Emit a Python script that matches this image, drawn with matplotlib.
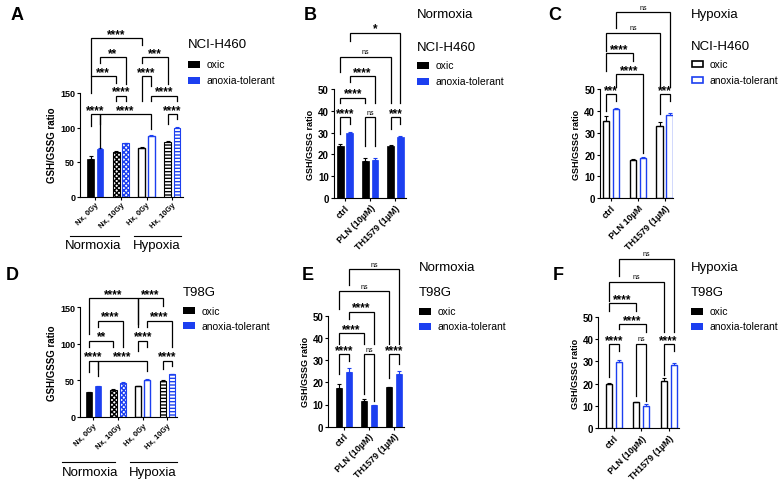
import numpy as np
import matplotlib
matplotlib.use('Agg')
import matplotlib.pyplot as plt
from matplotlib.lines import Line2D
from matplotlib.patches import Rectangle

plt.rcParams['font.family'] = ['Liberation Sans', 'DejaVu Sans']
plt.rcParams['hatch.linewidth'] = 1.0

W, H = 779, 489
BLUE = '#1c3ff0'

# ---------------- data ----------------
rad_labels = ['Nx, 0Gy', 'Nx, 10Gy', 'Hx, 0Gy', 'Hx, 10Gy']
drug_labels = ['ctrl', 'PLN (10µM)', 'TH1579 (1µM)']
drug_labels_c = ['ctrl', 'PLN 10µM', 'TH1579 (1µM)']

a_oxic = [55, 64, 71, 79]
a_oxic_err = [4, 1.5, 1, 1]
a_anox = [69, 77, 88, 99]
a_anox_err = [2, 1, 1, 1.5]

b_oxic = [24, 17, 24]
b_oxic_err = [1, 1.5, 0.5]
b_anox = [30, 17.5, 28]
b_anox_err = [0.4, 1, 0.4]

c_oxic = [35.5, 17.5, 33.2]
c_oxic_err = [2, 0.3, 1.5]
c_anox = [41, 18.5, 38.2]
c_anox_err = [0.5, 0.5, 1]

d_oxic = [33.4, 37, 41.6, 49.3]
d_oxic_err = [1, 1, 1, 1]
d_anox = [41.6, 46.2, 50.7, 58]
d_anox_err = [1, 1, 1, 1]

e_oxic = [17.5, 11.4, 17.7]
e_oxic_err = [1.6, 1.2, 0.3]
e_anox = [24.8, 9.8, 23.7]
e_anox_err = [1.6, 0.2, 1.3]

f_oxic = [20, 11.7, 21.3]
f_oxic_err = [0.5, 0.3, 1.2]
f_anox = [29.8, 10, 28.5]
f_anox_err = [1, 1, 0.6]

# comparisons: (group1, series1, group2, series2, height, leg1 end, leg2 end, label)
a_brackets = [
    (0, 0, 2, 0, 229.5, 174, 219, '****'),
    (0, 1, 1, 1, 202, 194, 163, '**'),
    (2, 0, 3, 0, 202, 194, 163, '***'),
    (0, 0, 1, 0, 174, 150, 165, '***'),
    (2, 0, 2, 1, 174, 139, 160, '****'),
    (1, 0, 1, 1, 146, 139, 139, '****'),
    (2, 1, 3, 1, 146, 139, 139, '****'),
    (0, 1, 2, 1, 119, 71, 97.5, '****'),
    (0, 0, 0, 1, 119, 102, 105, '****'),
    (3, 0, 3, 1, 119, 105, 112, '****'),
]
b_brackets = [
    (0, 1, 2, 1, 75.8, 72, 43.5, '*'),
    (0, 0, 2, 0, 64.7, 58, 43.5, 'ns'),
    (0, 1, 1, 1, 56, 53, 43.5, '****'),
    (0, 0, 1, 0, 46, 43.5, 43.5, '****'),
    (0, 0, 0, 1, 37, 29.4, 34, '****'),
    (1, 0, 1, 1, 37, 24, 24, 'ns'),
    (2, 0, 2, 1, 37, 31.6, 34, '***'),
]
c_brackets = [
    (0, 1, 2, 1, 85.2, 78, 51, 'ns'),
    (0, 0, 2, 0, 75.8, 67.4, 51, 'ns'),
    (0, 0, 1, 0, 66.3, 58.3, 62.8, '****'),
    (0, 1, 1, 1, 56.8, 51, 20.7, '****'),
    (0, 0, 0, 1, 47.6, 40, 44.6, '***'),
    (2, 0, 2, 1, 47.6, 38.5, 44.6, '***'),
]
d_brackets = [
    (0, 0, 2, 0, 162.6, 113, 127, '****'),
    (2, 0, 3, 0, 162.6, 122.4, 152, '****'),
    (0, 1, 1, 1, 131.5, 122.4, 95, '****'),
    (2, 1, 3, 1, 131.5, 122.4, 95, '****'),
    (0, 0, 1, 0, 104, 95, 95, '**'),
    (2, 0, 2, 1, 104, 90, 95, '****'),
    (0, 0, 0, 1, 76.7, 60.8, 65, '****'),
    (0, 1, 2, 1, 76.7, 56, 63, '****'),
    (3, 0, 3, 1, 76.7, 65, 70, '****'),
]
e_brackets = [
    (0, 1, 2, 1, 71, 64, 37.2, 'ns'),
    (0, 0, 2, 0, 61, 53, 37.2, 'ns'),
    (0, 1, 1, 1, 51.8, 48.5, 37.2, '****'),
    (0, 0, 1, 0, 42, 37.2, 37.2, '****'),
    (0, 0, 0, 1, 32.7, 23.7, 29.7, '****'),
    (1, 0, 1, 1, 32.7, 14.7, 11.7, 'ns'),
    (2, 0, 2, 1, 32.7, 22, 28.2, '****'),
]
f_brackets = [
    (0, 1, 2, 1, 75.9, 68.2, 43, 'ns'),
    (0, 0, 2, 0, 65.7, 57.2, 43, 'ns'),
    (0, 0, 1, 0, 56.2, 52.7, 52.7, '****'),
    (0, 1, 1, 1, 46.8, 44.5, 43, '****'),
    (0, 0, 0, 1, 37.8, 22.9, 34.5, '****'),
    (1, 0, 1, 1, 37.8, 14.6, 12.4, 'ns'),
    (2, 0, 2, 1, 37.8, 24, 34.5, '****'),
]

fig = plt.figure(figsize=(W / 100, H / 100), dpi=100)


def fx(x):
    return x / W


def fy(y):
    return 1 - y / H


def add_ax(l, r, t, b):
    return fig.add_axes([fx(l), fy(b), (r - l) / W, (b - t) / H])


def bar_kw(kind, color):
    if kind == 'solid':
        return dict(facecolor=color, edgecolor=color, linewidth=0.5)
    if kind == 'cross':
        return dict(facecolor='white', edgecolor=color, hatch='xxxxxxx', linewidth=0.8)
    if kind == 'stripe':
        return dict(facecolor='white', edgecolor=color, hatch='-----', linewidth=0.8)
    return dict(facecolor='white', edgecolor=color, linewidth=1.0)


def panel(box, labels, oxic, oxic_err, anox, anox_err, kinds, xlim, ymax, ystep,
          off, width, brackets, tfs, xfs, yfs):
    ax = add_ax(*box)
    x = np.arange(len(labels))
    for i in range(len(labels)):
        ax.bar(x[i] - off, oxic[i], width, zorder=2, **bar_kw(kinds[i], 'black'))
        ax.bar(x[i] + off, anox[i], width, zorder=2, **bar_kw(kinds[i], BLUE))
    n = len(labels)
    ax.errorbar(x - off, oxic, yerr=[np.zeros(n), oxic_err], fmt='none', ecolor='black',
                elinewidth=0.8, capsize=1.5, capthick=0.8, zorder=3)
    ax.errorbar(x + off, anox, yerr=[np.zeros(n), anox_err], fmt='none', ecolor=BLUE,
                elinewidth=0.8, capsize=1.5, capthick=0.8, zorder=3)
    ax.set_xlim(*xlim)
    ax.set_ylim(0, ymax)
    ax.set_yticks(np.arange(0, ymax + 1, ystep))
    ax.set_xticks(x)
    ax.set_xticklabels(labels, rotation=45, ha='right', rotation_mode='anchor',
                       fontsize=xfs, fontweight='bold')
    for t in ax.get_yticklabels():
        t.set_fontweight('bold')
        t.set_fontsize(tfs)
    ax.tick_params(length=2.5, width=0.8, pad=1)
    for s in ['top', 'right']:
        ax.spines[s].set_visible(False)
    for s in ['left', 'bottom']:
        ax.spines[s].set_linewidth(0.8)
    ax.set_ylabel('GSH/GSSG ratio', fontsize=yfs, fontweight='bold', labelpad=2)

    for g1, s1, g2, s2, h, l1, l2, lab in brackets:
        p1 = g1 + (off if s1 else -off)
        p2 = g2 + (off if s2 else -off)
        ax.plot([p1, p1, p2, p2], [l1, h, h, l2], color='black', lw=0.9,
                clip_on=False, solid_joinstyle='miter', zorder=4)
        if lab == 'ns':
            ax.annotate(lab, ((p1 + p2) / 2, h), xytext=(0, 2.5), textcoords='offset points',
                        ha='center', va='baseline', fontsize=5, annotation_clip=False)
        else:
            ax.annotate(lab, ((p1 + p2) / 2, h), xytext=(0, 0.8), textcoords='offset points',
                        ha='center', va='baseline', fontsize=8.5, fontweight='bold',
                        annotation_clip=False)
    return ax


rad_kinds = ['solid', 'cross', 'open', 'stripe']

panel((80, 183, 94, 197.5), rad_labels, a_oxic, a_oxic_err, a_anox, a_anox_err, rad_kinds,
      (-0.594, 3.418), 150, 50, 0.185, 0.27, a_brackets, 6.5, 5.5, 7)
panel((333.5, 406, 90, 199), drug_labels, b_oxic, b_oxic_err, b_anox, b_anox_err, ['solid'] * 3,
      (-0.455, 2.416), 50, 10, 0.188, 0.27, b_brackets, 7, 6.5, 6.5)
panel((600, 673, 90, 199.3), drug_labels_c, c_oxic, c_oxic_err, c_anox, c_anox_err, ['open'] * 3,
      (-0.41, 2.31), 50, 10, 0.186, 0.246, c_brackets, 7, 6.5, 6.5)
panel((80, 177, 308, 417.7), rad_labels, d_oxic, d_oxic_err, d_anox, d_anox_err, rad_kinds,
      (-0.54, 3.387), 150, 50, 0.186, 0.25, d_brackets, 6.5, 5.5, 7)
panel((328.3, 404, 316.7, 427.7), drug_labels, e_oxic, e_oxic_err, e_anox, e_anox_err, ['solid'] * 3,
      (-0.617, 2.387), 50, 10, 0.19, 0.24, e_brackets, 7, 6.5, 6.5)
panel((598.3, 679, 317.7, 429.3), drug_labels, f_oxic, f_oxic_err, f_anox, f_anox_err, ['open'] * 3,
      (-0.57, 2.376), 50, 10, 0.18, 0.215, f_brackets, 7, 6.5, 6.5)


# ---------------- legends / titles ----------------
def legend(x, y_title, title, y1, y2, open_boxes=False, sub=None, y_sub=None):
    if sub:
        fig.text(fx(x), fy(y_sub), sub, fontsize=9.5, ha='left', va='center')
    fig.text(fx(x), fy(y_title), title, fontsize=9.5, ha='left', va='center')
    for yy, col, lab in [(y1, 'black', 'oxic'), (y2, BLUE, 'anoxia-tolerant')]:
        if open_boxes:
            r = Rectangle((fx(x + 0.6), fy(yy + 3)), 11 / W, 6 / H, transform=fig.transFigure,
                          facecolor='white', edgecolor=col, linewidth=1.2)
        else:
            r = Rectangle((fx(x), fy(yy + 3.5)), 12 / W, 7 / H, transform=fig.transFigure,
                          facecolor=col, edgecolor=col, linewidth=0)
        fig.patches.append(r)
        fig.text(fx(x + 18.5), fy(yy), lab, fontsize=7.5, ha='left', va='center')


legend(188, 45, 'NCI-H460', 65, 81.5)
legend(417, 48, 'NCI-H460', 66, 82, sub='Normoxia', y_sub=15)
legend(691, 47, 'NCI-H460', 65, 80.5, open_boxes=True, sub='Hypoxia', y_sub=15)
legend(183, 293, 'T98G', 311.7, 326.7)
legend(419, 293, 'T98G', 312, 327, sub='Normoxia', y_sub=268)
legend(691, 293, 'T98G', 312, 327, sub='Hypoxia', y_sub=268)

# condition group lines under A and D
for (l1, r1, l2, r2, yl, yt, c1, c2) in [(70, 119, 134, 181, 237, 246, 93, 157),
                                          (62, 115, 130, 177, 463, 473, 90, 152.5)]:
    fig.add_artist(Line2D([fx(l1), fx(r1)], [fy(yl), fy(yl)], color='black', lw=0.8))
    fig.add_artist(Line2D([fx(l2), fx(r2)], [fy(yl), fy(yl)], color='black', lw=0.8))
    fig.text(fx(c1), fy(yt), 'Normoxia', fontsize=9.5, ha='center', va='center')
    fig.text(fx(c2), fy(yt), 'Hypoxia', fontsize=9.5, ha='center', va='center')

# panel letters
for lab, x, y in [('A', 17, 16), ('B', 310, 15), ('C', 555, 15),
                  ('D', 12, 275), ('E', 308, 275), ('F', 558, 275)]:
    fig.text(fx(x), fy(y), lab, fontsize=13, fontweight='bold', ha='center', va='center')

fig.savefig('out.png', dpi=100)
